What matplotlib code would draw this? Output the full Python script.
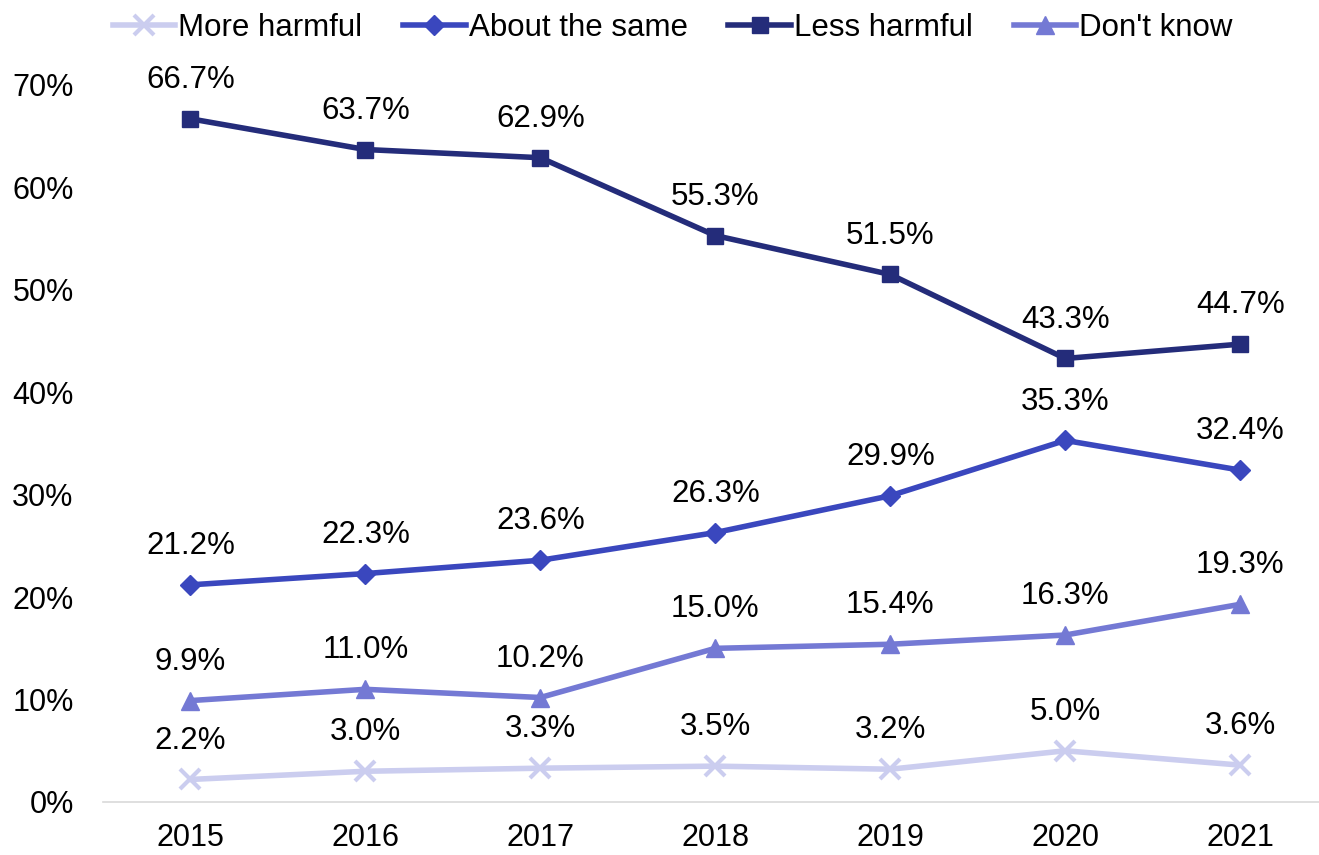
import matplotlib.pyplot as plt

plt.rcParams['font.family'] = ['Liberation Sans', 'DejaVu Sans']

years = ['2015', '2016', '2017', '2018', '2019', '2020', '2021']
more_harmful = [2.2, 3.0, 3.3, 3.5, 3.2, 5.0, 3.6]
about_same = [21.2, 22.3, 23.6, 26.3, 29.9, 35.3, 32.4]
less_harmful = [66.7, 63.7, 62.9, 55.3, 51.5, 43.3, 44.7]
dont_know = [9.9, 11.0, 10.2, 15.0, 15.4, 16.3, 19.3]
y_ticks = [0, 10, 20, 30, 40, 50, 60, 70]

series = [
    ('More harmful', more_harmful, '#CBCDEF', 'x', 15),
    ('About the same', about_same, '#3A47BE', 'D', 10),
    ('Less harmful', less_harmful, '#242C7A', 's', 11),
    ('Don\'t know', dont_know, '#7479D4', '^', 13),
]

fig = plt.figure(figsize=(13.19, 8.55), dpi=100)
ax = fig.add_axes([0.078, 0.062, 0.922, 0.8386])

x = list(range(len(years)))
for name, vals, color, marker, ms in series:
    ax.plot(x, vals, color=color, linewidth=4, marker=marker, markersize=ms,
            markeredgewidth=3 if marker == 'x' else 1, markeredgecolor=color,
            label=name, solid_joinstyle='round')
    for xi, v in zip(x, vals):
        ax.annotate(f'{v:.1f}%', (xi, v), xytext=(0, 28), textcoords='offset points',
                    ha='center', va='center', fontsize=22.5, color='#000000')

ax.set_xlim(-0.5, 6.45)
ax.set_ylim(0, 70)
ax.set_xticks(x)
ax.set_xticklabels(years, fontsize=22)
ax.set_yticks(y_ticks)
ax.set_yticklabels([f'{t}%' for t in y_ticks], fontsize=22)
ax.tick_params(axis='both', length=0)
ax.tick_params(axis='y', pad=21)
ax.tick_params(axis='x', pad=15)
for s in ['top', 'right', 'left']:
    ax.spines[s].set_visible(False)
ax.spines['bottom'].set_color('#D9D9D9')
ax.spines['bottom'].set_linewidth(1.2)

ax.legend(loc='center', bbox_to_anchor=(0.51, 0.967), bbox_transform=fig.transFigure,
          ncol=4, frameon=False, fontsize=22.5, handlelength=2.0, handletextpad=0.1,
          columnspacing=1.3)

fig.savefig('out.png', dpi=100)
